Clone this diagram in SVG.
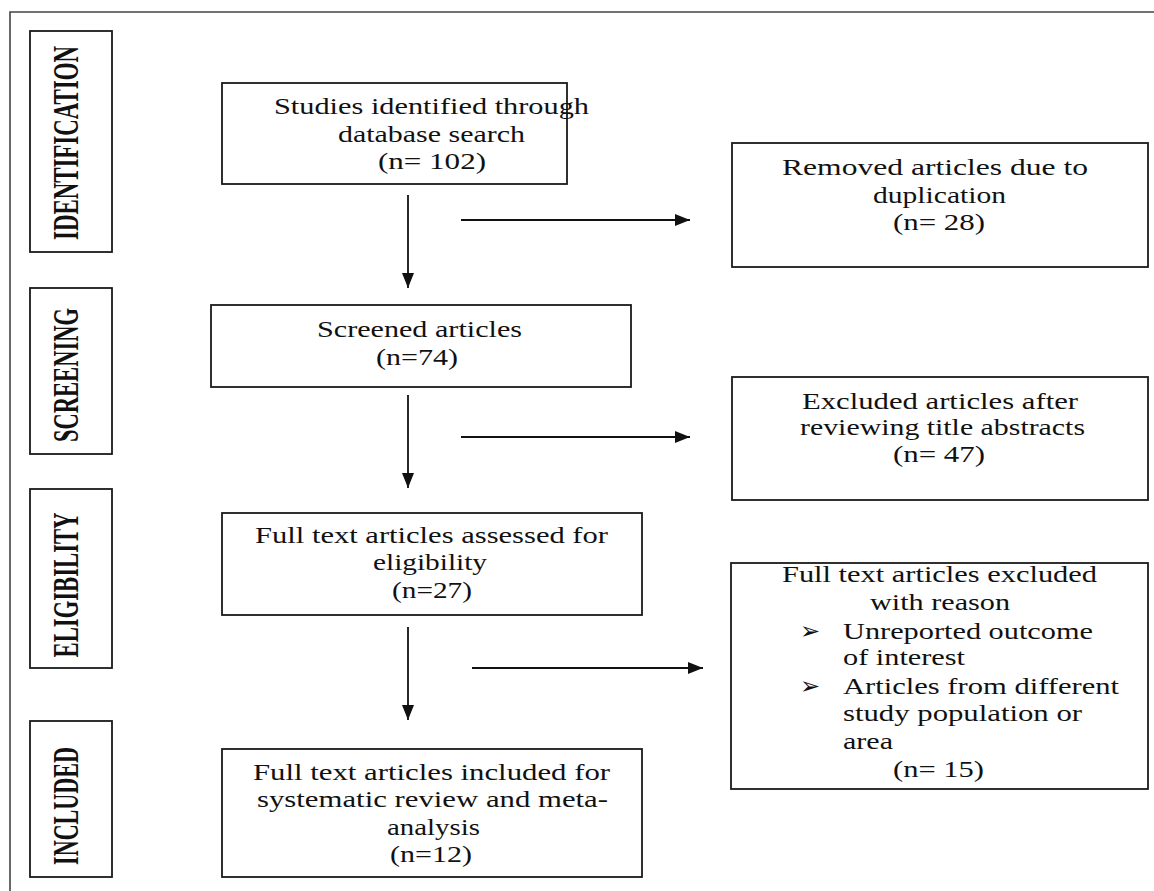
<svg xmlns="http://www.w3.org/2000/svg" width="1154" height="891" viewBox="0 0 1154 891">
<style>
.box{fill:#fff;stroke:#1a1a1a;stroke-width:1.8}
.t{font-family:"Liberation Serif","Times New Roman",serif;font-size:24px;fill:#111}
.p{font-family:"Liberation Serif","Times New Roman",serif;font-size:36px;font-weight:bold;fill:#111}
.c{stroke:#111;stroke-width:1.8;fill:none}
</style>
<defs>
<marker id="ah" markerUnits="userSpaceOnUse" markerWidth="16" markerHeight="14" refX="15" refY="6" orient="auto">
<path d="M0,0 L15,6 L0,12 Z" fill="#111"/>
</marker>
</defs>
<rect width="1154" height="891" fill="#fff"/>
<path d="M10,891 L10,12 L1154,12" fill="none" stroke="#444" stroke-width="1.6"/>

<g id="phase-identification">
<rect class="box" x="30" y="31" width="82" height="221"/>
<text class="p" transform="translate(77.5,143) rotate(-90) scale(0.63,1)" text-anchor="middle" textLength="308" lengthAdjust="spacingAndGlyphs">IDENTIFICATION</text>
</g>
<g id="phase-screening">
<rect class="box" x="30" y="288" width="82" height="166"/>
<text class="p" transform="translate(77.5,375) rotate(-90) scale(0.63,1)" text-anchor="middle" textLength="213" lengthAdjust="spacingAndGlyphs">SCREENING</text>
</g>
<g id="phase-eligibility">
<rect class="box" x="30" y="489" width="82" height="179"/>
<text class="p" transform="translate(77.5,585) rotate(-90) scale(0.63,1)" text-anchor="middle" textLength="230" lengthAdjust="spacingAndGlyphs">ELIGIBILITY</text>
</g>
<g id="phase-included">
<rect class="box" x="30" y="721" width="82" height="156"/>
<text class="p" transform="translate(77.5,806) rotate(-90) scale(0.63,1)" text-anchor="middle" textLength="187" lengthAdjust="spacingAndGlyphs">INCLUDED</text>
</g>

<g id="identified">
<rect class="box" x="222" y="83" width="345" height="101"/>
<text class="t" x="274" y="114" textLength="315" lengthAdjust="spacingAndGlyphs">Studies identified through</text>
<text class="t" x="338" y="142" textLength="187" lengthAdjust="spacingAndGlyphs">database search</text>
<text class="t" x="378" y="169" textLength="108" lengthAdjust="spacingAndGlyphs">(n= 102)</text>
</g>
<g id="removed">
<rect class="box" x="732" y="143" width="416" height="124"/>
<text class="t" x="782" y="175" textLength="306" lengthAdjust="spacingAndGlyphs">Removed articles due to</text>
<text class="t" x="873" y="203" textLength="133" lengthAdjust="spacingAndGlyphs">duplication</text>
<text class="t" x="893" y="230" textLength="92" lengthAdjust="spacingAndGlyphs">(n= 28)</text>
</g>
<g id="screened">
<rect class="box" x="211" y="305" width="420" height="82"/>
<text class="t" x="317" y="337" textLength="205" lengthAdjust="spacingAndGlyphs">Screened articles</text>
<text class="t" x="376" y="365" textLength="82" lengthAdjust="spacingAndGlyphs">(n=74)</text>
</g>
<g id="excluded-abstracts">
<rect class="box" x="732" y="377" width="416" height="123"/>
<text class="t" x="802" y="409" textLength="276" lengthAdjust="spacingAndGlyphs">Excluded articles after</text>
<text class="t" x="800" y="435" textLength="285" lengthAdjust="spacingAndGlyphs">reviewing title abstracts</text>
<text class="t" x="893" y="462" textLength="92" lengthAdjust="spacingAndGlyphs">(n= 47)</text>
</g>
<g id="assessed">
<rect class="box" x="222" y="513" width="420" height="102"/>
<text class="t" x="255" y="543" textLength="353" lengthAdjust="spacingAndGlyphs">Full text articles assessed  for</text>
<text class="t" x="373" y="570" textLength="114" lengthAdjust="spacingAndGlyphs">eligibility</text>
<text class="t" x="392" y="598" textLength="80" lengthAdjust="spacingAndGlyphs">(n=27)</text>
</g>
<g id="excluded-reason">
<rect class="box" x="731" y="563" width="417" height="226"/>
<text class="t" x="782" y="582" textLength="315" lengthAdjust="spacingAndGlyphs">Full text articles excluded</text>
<text class="t" x="870" y="610" textLength="140" lengthAdjust="spacingAndGlyphs">with reason</text>
<text class="t" x="800" y="639">➢</text>
<text class="t" x="843" y="639" textLength="250" lengthAdjust="spacingAndGlyphs">Unreported outcome</text>
<text class="t" x="843" y="665" textLength="122" lengthAdjust="spacingAndGlyphs">of interest</text>
<text class="t" x="800" y="694">➢</text>
<text class="t" x="843" y="694" textLength="276" lengthAdjust="spacingAndGlyphs">Articles from different</text>
<text class="t" x="843" y="721" textLength="239" lengthAdjust="spacingAndGlyphs">study population or</text>
<text class="t" x="843" y="749" textLength="50" lengthAdjust="spacingAndGlyphs">area</text>
<text class="t" x="893" y="777" textLength="91" lengthAdjust="spacingAndGlyphs">(n= 15)</text>
</g>
<g id="included">
<rect class="box" x="222" y="749" width="420" height="128"/>
<text class="t" x="253" y="780" textLength="357" lengthAdjust="spacingAndGlyphs">Full text articles included  for</text>
<text class="t" x="257" y="807" textLength="351" lengthAdjust="spacingAndGlyphs">systematic review and meta-</text>
<text class="t" x="387" y="835" textLength="93" lengthAdjust="spacingAndGlyphs">analysis</text>
<text class="t" x="390" y="862" textLength="82" lengthAdjust="spacingAndGlyphs">(n=12)</text>
</g>

<g id="connectors">
<line class="c" x1="408" y1="195" x2="408" y2="288" marker-end="url(#ah)"/>
<line class="c" x1="461" y1="220" x2="690" y2="220" marker-end="url(#ah)"/>
<line class="c" x1="408" y1="395" x2="408" y2="488" marker-end="url(#ah)"/>
<line class="c" x1="461" y1="437" x2="690" y2="437" marker-end="url(#ah)"/>
<line class="c" x1="408" y1="627" x2="408" y2="720" marker-end="url(#ah)"/>
<line class="c" x1="472" y1="668" x2="703" y2="668" marker-end="url(#ah)"/>
</g>
</svg>
